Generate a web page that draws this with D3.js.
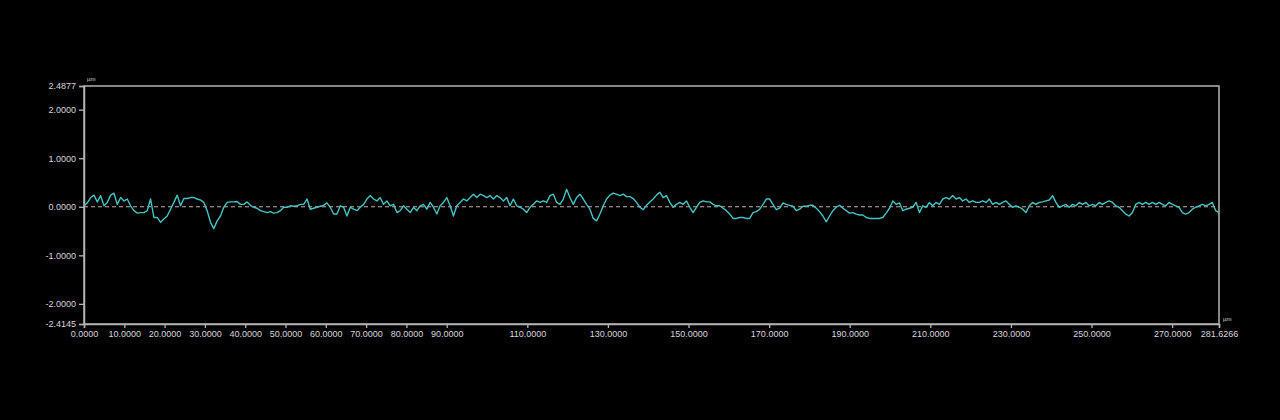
<!DOCTYPE html>
<html><head><meta charset="utf-8">
<script src="https://cdn.jsdelivr.net/npm/d3@7"></script>
<style>html,body{margin:0;padding:0;background:#000;}svg{display:block;}</style>
</head><body>
<svg id="c" width="1280" height="420"></svg>
<script>
// ---- data ----
const xMin = 0, xMax = 281.6266;
const yMin = -2.4145, yMax = 2.4877;
const yTickValues = [2.4877, 2.0, 1.0, 0.0, -1.0, -2.0, -2.4145];
const xTickValues = [0,10,20,30,40,50,60,70,80,90,110,130,150,170,190,210,230,250,270,281.6266];
const unitLabel = "µm";
// profile heights (µm), uniformly sampled along 0 .. 281.6266 µm
const profileA = [0.02,0.08,0.19,0.24,0.10,0.23,0.02,0.09,0.24,0.28,0.05,0.19,0.12,0.16,0.02,-0.08,-0.13,-0.12,-0.12,-0.08,
 0.16,-0.22,-0.22,-0.32,-0.25,-0.19,-0.05,0.09,0.24,0.02,0.17,0.17,0.19,0.19,0.16,0.14,0.09,-0.08,-0.32,-0.45,
 -0.29,-0.19,-0.01,0.09,0.10,0.10,0.11,0.05,0.05,0.10,0.03,-0.01,-0.03,-0.08,-0.10,-0.12,-0.10,-0.13,-0.12];
const profileB = [-0.08,-0.01,-0.01,0.02,0.01,0.02,0.05,0.05,0.16,-0.05,-0.03,-0.01,0.01,0.03,0.08,-0.01,-0.15,-0.15,0.02,-0.01,
 -0.19,-0.01,-0.05,-0.08,-0.01,0.05,0.16,0.23,0.16,0.12,0.19,0.05,0.12,0.02,0.05,-0.12,-0.08,0.02,-0.05,-0.12,
 -0.01,-0.08,0.02,0.05,-0.05,0.09,-0.01,-0.15,0.02,0.09,0.19,0.02,-0.19,0.02,0.09,0.16,0.12];
const profileC = [0.19,0.26,0.19,0.26,0.23,0.19,0.23,0.16,0.23,0.19,0.12,0.19,0.02,0.16,0.02,-0.01,-0.05,-0.12,-0.01,0.05,
 0.12,0.09,0.12,0.09,0.23,0.26,0.09,0.05,0.16,0.36,0.19,0.05,0.19,0.26,0.16,0.05,-0.05,-0.24,-0.29,-0.15,
 0.02,0.16,0.24,0.28,0.26,0.23,0.26,0.21,0.21,0.17,0.09,-0.01,-0.06,0.03,0.10,0.16,0.24,0.30];
const profileD = [0.19,0.23,0.09,-0.01,0.05,0.09,0.05,0.12,-0.01,-0.12,-0.01,0.09,0.12,0.10,0.10,0.05,0.02,0.02,-0.03,-0.08,
 -0.15,-0.24,-0.24,-0.22,-0.22,-0.24,-0.24,-0.12,-0.10,-0.05,0.05,0.16,0.16,0.05,-0.06,-0.03,0.08,0.05,0.03,0.01,
 -0.08,-0.05,0.01,0.01,0.03,0.03,-0.03,-0.10,-0.19,-0.31,-0.19,-0.08,-0.01,0.03,-0.03,-0.08,-0.13];
const profileE = [-0.12,-0.15,-0.17,-0.17,-0.22,-0.24,-0.24,-0.24,-0.24,-0.22,-0.13,-0.03,0.12,0.05,0.08,-0.08,-0.05,-0.03,-0.01,0.09,
 -0.12,0.02,-0.01,0.09,0.02,0.09,0.05,0.16,0.19,0.16,0.23,0.16,0.19,0.12,0.16,0.09,0.12,0.09,0.09,0.12,
 0.09,0.16,0.05,0.09,0.05,0.09,0.12,0.05,-0.01,0.02,-0.01,-0.05,-0.12,0.02,0.09,0.05,0.09];
const profileF = [0.10,0.12,0.14,0.23,0.09,-0.01,0.02,0.05,-0.01,0.05,0.02,0.09,0.05,0.09,0.02,0.05,0.02,0.09,0.05,0.09,
 0.12,0.09,0.02,-0.01,-0.08,-0.15,-0.19,-0.12,0.05,0.09,0.05,0.09,0.05,0.09,0.05,0.09,0.05,0.02,0.09,0.05,
 0.02,-0.01,-0.12,-0.15,-0.12,-0.05,-0.01,0.02,0.05,0.02,0.05,0.09,-0.08,-0.12];
const profile = [].concat(profileA, profileB, profileC, profileD, profileE, profileF);

// ---- chart ----
const svg = d3.select("#c");
const L = 84, R = 1219, T = 86, B = 324;
const x = d3.scaleLinear().domain([xMin, xMax]).range([L, R]);
const y = d3.scaleLinear().domain([yMin, yMax]).range([B, T]);
const axisColor = "#b4b4b4", textColor = "#d8d8d8";
const font = "Liberation Sans, Arial, sans-serif";
const fmt = d => d.toFixed(4);

// frame
svg.append("rect").attr("x", L).attr("y", T).attr("width", R - L).attr("height", B - T)
  .attr("fill", "none").attr("stroke", axisColor).attr("stroke-width", 1.5);

// zero line
svg.append("line").attr("x1", L).attr("x2", R).attr("y1", y(0)).attr("y2", y(0))
  .attr("stroke", "#c9acac").attr("stroke-width", 1).attr("stroke-dasharray", "4,3");

// y axis
const yAxis = d3.axisLeft(y).tickValues(yTickValues).tickSize(5).tickPadding(3).tickFormat(fmt);
const gy = svg.append("g").attr("transform", `translate(${L},0)`).call(yAxis);
gy.select(".domain").attr("stroke", axisColor).attr("stroke-width", 1.5);
gy.selectAll(".tick line").attr("stroke", axisColor).attr("stroke-width", 1.3);
gy.selectAll(".tick text").attr("fill", textColor).attr("font-size", 9).attr("font-family", font);

// x axis
const xAxis = d3.axisBottom(x).tickValues(xTickValues).tickSize(4).tickPadding(3).tickFormat(fmt);
const gx = svg.append("g").attr("transform", `translate(0,${B})`).call(xAxis);
gx.select(".domain").attr("stroke", axisColor).attr("stroke-width", 1.5);
gx.selectAll(".tick line").attr("stroke", axisColor).attr("stroke-width", 1.3);
gx.selectAll(".tick text").attr("fill", textColor).attr("font-size", 9).attr("font-family", font);

// unit labels
svg.append("text").attr("x", L + 3).attr("y", T - 5).text(unitLabel)
  .attr("fill", textColor).attr("font-size", 6).attr("font-family", font);
svg.append("text").attr("x", R + 4).attr("y", B - 3).text(unitLabel)
  .attr("fill", textColor).attr("font-size", 6).attr("font-family", font);

// profile line
const step = (xMax - xMin) / (profile.length - 1);
const line = d3.line().x((d, i) => x(xMin + i * step)).y(d => y(d));
svg.append("path").datum(profile).attr("d", line)
  .attr("fill", "none").attr("stroke", "#45c4c4").attr("stroke-width", 1.4)
  .attr("stroke-linejoin", "round");
</script>
</body></html>
